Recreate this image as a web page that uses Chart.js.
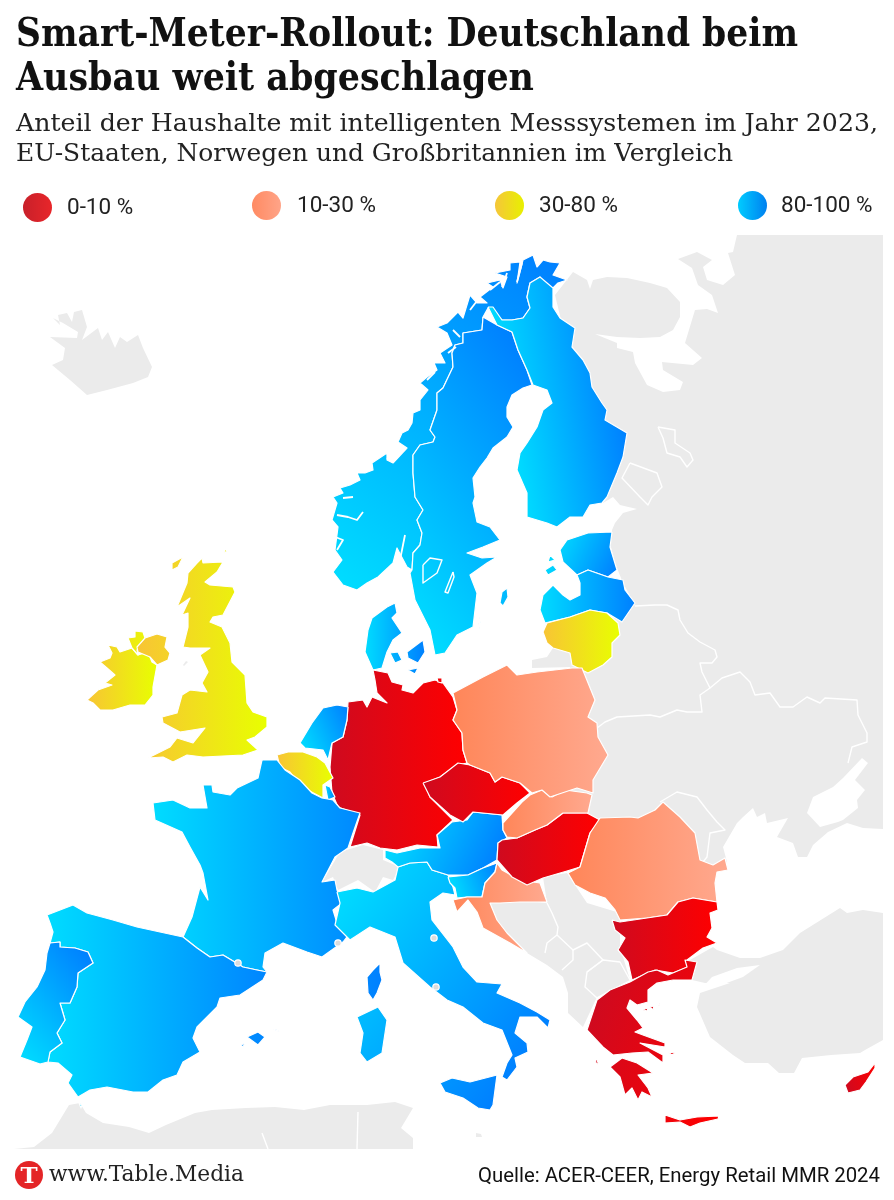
<!DOCTYPE html>
<html lang="de"><head><meta charset="utf-8">
<script src="https://cdn.jsdelivr.net/npm/chart.js@4"></script>
<style>
html,body{margin:0;padding:0;background:#fff}
#wrap{position:relative;width:894px;height:1200px;overflow:hidden}
canvas{position:absolute;left:0;top:0}
.t{position:absolute;white-space:nowrap;transform-origin:0 0;color:#111}
.slab{font-family:"DejaVu Serif Condensed","DejaVu Serif",serif}
.sans{font-family:Roboto,sans-serif}
.dot{position:absolute;width:29px;height:29px;border-radius:50%}
</style></head><body><div id="wrap"><canvas id="c" width="894" height="1200"></canvas></div>
<script>
// ---------- texts ----------
const titleLines=["Smart-Meter-Rollout: Deutschland beim","Ausbau weit abgeschlagen"];
const subtitleLines=["Anteil der Haushalte mit intelligenten Messsystemen im Jahr 2023,","EU-Staaten, Norwegen und Großbritannien im Vergleich"];
const legendLabels=["0-10 %","10-30 %","30-80 %","80-100 %"];
const footerLeft="www.Table.Media";
const footerRight="Quelle: ACER-CEER, Energy Retail MMR 2024";

// ---------- map outlines, in map units (flat x,y lists) ----------
const Island=[53,318,60,325,58,315,67,313,72,322,74,312,82,310,87,327,82,340,98,328,102,340,108,332,115,348,120,337,127,342,138,335,143,348,152,367,148,377,133,383,107,390,87,395,70,380,52,365,63,360,65,348,50,337,77,338,78,332,63,323];
const Osteuropa=[737,235,883,235,883,829,863,828,847,823,828,832,813,845,807,857,798,857,793,843,777,837,788,818,767,823,765,813,757,817,753,808,743,817,737,823,730,835,723,847,727,862,700,880,575,870,570,790,570,640,635,605,623,583,615,563,610,543,612,530,615,523,623,513,637,509,620,505,613,497,603,503,590,440,555,295,573,272,587,280,590,289,593,280,607,277,627,278,650,283,667,288,680,302,680,317,673,330,660,337,640,338,617,337,595,334,617,343,617,348,633,352,635,363,647,385,663,392,680,390,683,382,663,370,662,362,693,365,702,358,685,343,695,310,707,309,718,313,712,295,698,285,692,268,678,259,697,252,712,260,703,267,707,280,723,285,735,275,728,253,733,252];
const Asowsches=[807,813,813,797,833,787,843,778,862,758,868,763,855,780,865,790,857,800,858,808,843,820,838,822,820,827];
const Kaliningrad=[532,668,572,667,570,653,553,648,547,657,532,660];
const Balkan=[490,903,520,900,547,903,543,877,567,873,587,903,620,913,620,947,630,980,597,997,583,1027,568,1013,568,993,563,977,547,965,527,953,507,933,497,920];
const Schweiz=[322,882,340,852,363,845,383,850,383,860,400,867,393,880,383,877,375,892,358,880,338,890,333,877];
const Tuerkei=[690,960,713,947,717,950,740,958,760,958,783,950,800,933,840,908,847,913,863,910,883,913,883,1040,865,1050,860,1053,831,1055,802,1058,794,1073,779,1073,768,1063,745,1063,733,1055,710,1037,697,1007,700,993,730,983,705,983,692,980];
const Marmara=[700,990,712,977,737,968,760,965,743,977,713,988];
const Afrika=[14,1149,34,1147,52,1133,69,1105,80,1103,86,1113,103,1123,129,1127,149,1133,166,1125,195,1113,212,1110,246,1108,275,1107,304,1110,330,1105,367,1105,395,1102,413,1108,401,1128,413,1138,413,1149];
const Malta=[476,1133,481,1134,482,1137,477,1137];
const Man=[186,661,188,662,184,666,183,665];

const Grenzen=[
 [635,606,655,605,667,605,678,610,680,620,688,633,700,642,715,650,717,657,712,663,700,663,702,672,710,688,722,678,740,672,750,682,755,695,770,693,780,707,793,707,807,697,820,703,825,698,857,700,858,715,867,733,867,742,852,747,848,763],
 [710,688,700,695,702,712,687,712,677,710,660,717,650,715,617,717,605,722,597,728],
 [660,802,677,792,697,797,707,810,717,822,725,830,710,833,707,857,703,862],
 [547,903,552,913,558,927,557,935,547,943,545,953],
 [557,935,573,950,587,943,603,960,587,972,585,987,597,998],
 [573,950,573,960,562,970],
 [587,972,603,960,620,962,630,980],
 [262,1133,268,1149],[358,1112,357,1149]
];
const Ladoga=[630,463,657,473,662,487,652,497,648,505,640,497,622,478];
const Onega=[658,427,675,430,675,443,690,453,693,460,687,467,680,457,667,453,663,438];
const Fjorde=[[387,458,393,462,405,448],[343,498,353,497],[337,515,348,517,357,520,363,512],[330,535,343,540,337,550],[517,282,522,263],[502,287,507,273],[470,310,480,297],[460,337,453,330],[400,560,405,535],[366,590,378,580],[427,380,435,372],[448,353,456,347],[490,290,500,282]];

const Norwegen=[357,590,343,585,333,572,342,560,335,550,338,527,332,520,337,503,333,497,343,493,340,488,350,485,360,480,357,473,365,473,373,470,372,463,387,453,387,460,393,463,407,448,398,442,402,433,408,430,412,423,413,413,420,410,420,400,428,390,420,383,427,377,437,370,434,363,445,363,440,353,452,345,447,333,437,327,447,323,458,312,463,318,470,295,477,303,487,303,480,297,493,287,487,283,500,280,503,288,507,277,495,273,510,270,510,263,520,262,517,283,523,260,533,255,537,267,543,260,550,262,560,263,553,275,567,280,558,283,553,288,553,297,540,277,530,283,527,297,530,308,523,318,512,320,502,320,488,308,483,317,482,330,463,333,463,343,455,345,452,353,453,367,443,388,437,393,437,410,430,430,435,437,433,442,420,445,413,455,413,473,415,497,423,510,417,520,422,533,420,545,413,553,412,570,407,567,397,548,393,563,378,577,367,583];
const Schweden=[483,317,497,325,512,332,518,350,527,370,532,385,523,388,512,395,507,407,507,417,513,427,507,437,493,448,487,458,480,467,473,478,475,497,473,503,477,522,490,527,500,540,483,547,467,553,482,558,497,557,487,563,470,575,477,593,473,627,457,635,445,653,435,655,430,630,415,600,410,573,412,570,413,553,420,545,422,533,417,520,423,510,415,497,413,473,413,455,420,445,433,442,435,437,430,430,437,410,437,393,443,388,453,367,452,353,455,345,463,343,463,333,482,330];
const Gotland=[507,588,502,592,500,603,503,606,508,597];
const Oeland=[480,617,481,618,479,629,478,628];
const Finnland=[488,307,493,307,502,320,512,320,523,318,530,308,527,297,530,283,540,277,553,288,553,297,553,307,560,318,575,328,572,347,583,360,590,373,592,387,602,403,607,410,605,420,627,433,623,457,617,473,607,497,602,503,590,505,583,517,570,517,557,527,547,523,527,517,527,493,517,470,520,453,527,443,537,427,543,410,552,403,547,390,533,385,527,370,518,350,512,332,497,325];
const Estland=[612,532,588,533,567,540,560,550,563,562,577,575,588,570,608,577,617,570,610,547];
const Saaremaa=[545,570,553,565,557,570,548,575];
const Hiiumaa=[550,555,555,560,548,562];
const Lettland=[540,610,543,595,553,585,563,595,570,600,580,595,580,583,577,575,588,570,608,577,623,580,625,590,635,603,622,622,607,613,590,610,570,617,545,623];
const Litauen=[543,632,547,623,570,617,590,610,607,613,618,623,620,635,612,643,612,657,603,665,588,673,572,665,570,653,553,648,547,643];
const Juetland=[373,670,365,652,368,630,372,618,387,607,395,603,397,613,392,618,402,633,393,640,387,652,382,668];
const Seeland=[407,652,423,640,425,652,418,663,408,658];
const Fuenen=[390,653,398,652,402,660,395,663];
const Lolland=[408,670,418,668,415,674];
const Deutschland=[373,670,388,673,392,682,403,685,402,690,413,693,423,683,435,680,443,683,453,697,457,710,453,720,462,733,463,750,467,763,457,765,440,777,425,783,430,797,453,820,437,835,438,847,417,845,397,850,380,848,367,843,350,847,360,815,338,807,332,793,330,767,332,743,343,737,347,720,348,702,363,700,367,707,372,697,387,703,377,693,375,680];
const Ruegen=[437,678,442,678,442,683,438,682];
const Niederlande=[348,707,337,705,323,708,312,723,300,743,305,748,323,750,328,760,332,743,343,737,347,720];
const Belgien=[277,755,288,752,303,752,317,757,325,763,333,778,323,785,323,798,302,787,290,772,280,767];
const Luxemburg=[325,785,330,787,335,797,328,800];
const Frankreich=[262,760,277,760,285,770,300,780,312,793,322,798,333,800,340,808,360,813,353,833,348,848,335,857,322,882,335,880,337,890,342,903,333,910,337,923,350,933,343,942,322,957,307,952,283,943,265,953,263,967,267,972,257,970,243,967,223,955,210,957,197,948,183,937,192,917,200,887,208,900,203,873,200,865,190,847,182,832,155,820,153,803,173,800,190,808,207,808,203,785,212,785,213,792,230,795,237,788,258,778];
const Korsika=[380,963,380,972,382,980,377,993,373,1000,368,993,367,977,373,970];
const Spanien=[47,915,73,905,87,913,113,920,137,927,160,932,183,937,197,948,210,957,223,955,243,967,257,970,267,972,263,980,240,995,220,998,217,1007,197,1027,193,1038,200,1052,183,1062,177,1075,163,1080,148,1092,133,1092,107,1087,90,1090,78,1097,68,1083,72,1075,58,1063,48,1062,50,1052,62,1043,57,1033,65,1020,60,1003,70,1003,77,987,78,973,93,963,88,952,75,948,60,947,60,942,50,943,53,932,50,923];
const Mallorca=[247,1037,258,1032,265,1037,258,1045];
const Menorca=[273,1029,280,1032,277,1030];
const Ibiza=[241,1045,245,1043,243,1047];
const Ceuta=[79,1103,82,1105,81,1108];
const Portugal=[50,943,60,942,60,947,75,948,88,952,93,963,78,973,77,987,70,1003,60,1003,65,1020,57,1033,62,1043,50,1052,48,1062,40,1064,20,1057,27,1040,32,1027,18,1017,25,1002,37,987,45,970,47,953];
const Italien=[337,892,357,888,373,892,395,880,398,867,410,863,427,862,432,870,448,875,453,887,455,895,443,893,430,902,432,920,453,947,463,967,477,982,502,984,497,993,520,1003,537,1012,550,1020,548,1028,537,1017,520,1017,515,1033,527,1043,528,1052,515,1058,517,1067,507,1080,502,1077,507,1063,512,1055,502,1030,483,1023,463,1007,447,1000,430,987,403,963,395,937,370,927,350,940,335,925,340,903];
const Sizilien=[440,1083,452,1078,470,1082,497,1075,493,1105,490,1110,478,1108,463,1098,445,1092];
const Sardinien=[357,1017,378,1007,387,1020,382,1053,367,1062,360,1053,363,1033];
const Oesterreich=[385,850,397,853,420,848,440,848,437,835,452,822,467,820,473,812,502,815,503,830,507,838,498,843,497,860,483,868,468,875,448,875,432,870,427,862,410,863,398,867,392,862,385,858];
const Slowenien=[448,877,468,875,483,868,497,863,495,872,485,883,482,897,467,897,457,898,455,888,450,883];
const Kroatien=[497,863,502,870,520,880,540,883,547,902,520,902,500,903,490,903,497,920,507,933,527,953,510,943,483,928,477,912,468,900,457,912,453,900,467,897,482,897,485,883,495,872];
const Ungarn=[502,840,517,838,535,830,547,825,563,813,587,813,600,820,590,833,580,867,567,871,543,878,527,885,512,877,497,860,498,843];
const Slowakei=[503,823,522,802,530,795,542,790,552,797,565,790,587,793,592,795,588,813,563,813,547,825,535,830,517,838,507,837,503,830];
const Tschechien=[423,783,440,777,458,763,470,765,490,773,495,782,502,777,520,783,530,793,517,803,503,815,473,812,463,822,450,815,430,797];
const Polen=[453,693,483,677,507,665,517,675,537,672,572,668,582,668,595,700,588,717,597,723,598,737,608,755,593,780,593,793,577,788,550,797,542,790,532,793,520,783,502,777,495,782,490,773,470,765,467,763,463,750,462,733,453,720,457,710];
const Rumaenien=[600,818,630,817,638,818,655,810,663,802,680,817,695,833,700,860,713,865,725,858,728,870,717,872,715,883,717,902,693,898,678,902,667,915,647,918,620,920,615,910,605,898,590,893,575,885,568,873,580,867,590,833];
const Bulgarien=[612,920,620,922,647,918,667,915,678,902,693,898,717,902,718,910,710,913,712,928,707,937,717,943,703,948,687,960,688,967,673,973,655,970,632,980,628,962,618,950,625,938,615,930];
const Griechenland=[630,982,648,972,657,970,668,975,687,967,685,960,697,962,692,980,673,980,657,983,648,990,648,1002,637,1005,630,1000,627,1008,637,1020,643,1028,635,1032,643,1035,665,1043,665,1047,640,1043,663,1055,663,1063,648,1052,632,1053,613,1055,603,1047,587,1030,597,1000,610,990];
const Peloponnes=[610,1067,622,1058,637,1063,653,1073,638,1075,648,1088,652,1097,642,1092,638,1100,632,1088,625,1095,620,1077];
const Kreta=[665,1115,680,1120,697,1117,719,1116,718,1119,700,1123,690,1127,680,1122,665,1123];
const Inselchen=[[643,1010,647,1008,648,1011],[650,1007,654,1006,653,1010],[658,1003,660,1004,659,1006],[595,1058,597,1060,599,1065,596,1063],[668,1052,675,1053,672,1055]];
const Zypern=[875,1063,875,1068,866,1082,860,1090,848,1093,845,1085,853,1077,868,1072];
const Irland=[108,645,117,647,120,652,132,648,138,655,148,652,152,662,157,665,153,687,153,695,145,705,130,705,113,710,100,710,93,703,87,700,98,690,112,685,105,683,115,675,107,668,100,662,110,658,112,653];
const Donegal=[128,638,135,637,135,631,143,632,145,638,137,650,138,655,132,648];
const Nordirland=[145,638,157,634,167,637,165,647,170,653,168,660,157,665,150,657,138,652,137,647];
const Grossbritannien=[202,558,203,563,223,562,217,572,205,582,210,585,233,587,235,592,223,615,213,617,210,622,222,627,230,643,232,662,245,675,247,703,253,712,267,717,267,727,255,737,247,740,258,750,243,755,203,757,187,755,173,762,163,757,148,758,170,747,177,738,193,743,205,728,180,732,163,723,162,717,177,713,182,695,190,690,207,692,202,683,208,672,200,655,210,648,190,648,183,647,188,627,188,613,182,615,190,598,177,607,187,583,188,573,197,563];
const Lewis=[172,563,183,557,178,567,172,570];
const Shetland=[224,548,227,551,225,553];
const Vaenern=[423,565,430,558,442,560,437,573,423,583];
const Vaettern=[453,572,445,592,448,593,454,577];
const Kleinstaaten=[[434,938],[436,987],[238,963],[338,943]];

// ---------- shares by class ----------
const klasse0_10=["Deutschland","Tschechien","Ungarn","Bulgarien","Griechenland","Zypern"];
const klasse10_30=["Polen","Slowakei","Rumänien","Kroatien"];
const klasse30_80=["Großbritannien","Irland","Belgien","Litauen"];
const klasse80_100=["Norwegen","Schweden","Finnland","Estland","Lettland","Dänemark","Niederlande","Luxemburg","Frankreich","Spanien","Portugal","Italien","Österreich","Slowenien"];

const laender={
 "Norwegen":[Norwegen],"Schweden":[Schweden,Gotland,Oeland],"Finnland":[Finnland],"Estland":[Estland,Saaremaa,Hiiumaa],
 "Lettland":[Lettland],"Litauen":[Litauen],"Dänemark":[Juetland,Seeland,Fuenen,Lolland],"Deutschland":[Deutschland,Ruegen],
 "Niederlande":[Niederlande],"Belgien":[Belgien],"Luxemburg":[Luxemburg],"Frankreich":[Frankreich,Korsika],
 "Spanien":[Spanien,Mallorca,Menorca,Ibiza,Ceuta],"Portugal":[Portugal],"Italien":[Italien,Sizilien,Sardinien],
 "Österreich":[Oesterreich],"Slowenien":[Slowenien],"Kroatien":[Kroatien],"Ungarn":[Ungarn],"Slowakei":[Slowakei],
 "Tschechien":[Tschechien],"Polen":[Polen],"Rumänien":[Rumaenien],"Bulgarien":[Bulgarien],
 "Griechenland":[Griechenland,Peloponnes,Kreta,...Inselchen],"Zypern":[Zypern],"Irland":[Irland,Donegal],
 "Großbritannien":[Grossbritannien,Nordirland,Lewis,Shetland]
};

// ---------- styles ----------
const GREY="#ebebeb";
const stops={a:["#cf0a1f","#ff0000"],b:["#ff8659","#ffa98f"],c:["#f8c435","#e8ff00"],d:["#00dcff","#0080ff"]};
const angle={"Norwegen":-50,"Schweden":-35,"Finnland":-10,"Italien":35,"Portugal":-40,"Österreich":25,"Slowenien":-20,"Estland":25,"Griechenland":20,"Niederlande":-25,"Zypern":-20};
const klasseOf=n=>klasse0_10.includes(n)?"a":klasse10_30.includes(n)?"b":klasse30_80.includes(n)?"c":"d";
const toPts=f=>{const o=[];for(let i=0;i<f.length;i+=2)o.push({x:f[i],y:f[i+1]});o.push({x:f[0],y:f[1]});return o};

function shape(flat,fill,label,bw=1.2){return{label,data:toPts(flat),showLine:true,fill:'shape',tension:0,pointRadius:0,pointHoverRadius:0,borderColor:bw?"#fff":"rgba(0,0,0,0)",borderWidth:bw,backgroundColor:fill,borderJoinStyle:'round'}}
function lineOnly(flat,label,closed,w=1.4){const p=toPts(flat);if(!closed)p.pop();return{label,data:p,showLine:true,fill:false,tension:0,pointRadius:0,pointHoverRadius:0,borderColor:"#fff",borderWidth:w,borderJoinStyle:'round',backgroundColor:'transparent'}}
function gradFor(name){
 const parts=laender[name].flat();const xs=[],ys=[];parts.forEach((v,i)=>(i%2?ys:xs).push(v));
 const a=(angle[name]||0)*Math.PI/180,dx=Math.cos(a),dy=Math.sin(a);
 let lo=1e9,hi=-1e9;xs.forEach((x,i)=>{const p=x*dx+ys[i]*dy;lo=Math.min(lo,p);hi=Math.max(hi,p)});
 const [c0,c1]=stops[klasseOf(name)];
 const mx=(Math.min(...xs)+Math.max(...xs))/2,my=(Math.min(...ys)+Math.max(...ys))/2,mp=mx*dx+my*dy;
 const from={x:mx+(lo-mp)*dx,y:my+(lo-mp)*dy},to={x:mx+(hi-mp)*dx,y:my+(hi-mp)*dy};
 return ctx=>{const c=ctx.chart,s=c.scales;if(!s||!s.x||!s.y)return c0;
  const p=[s.x.getPixelForValue(from.x),s.y.getPixelForValue(from.y),s.x.getPixelForValue(to.x),s.y.getPixelForValue(to.y)];
  if(!p.every(Number.isFinite))return c0;
  const g=c.ctx.createLinearGradient(p[0],p[1],p[2],p[3]);
  g.addColorStop(0,c0);g.addColorStop(1,c1);return g};
}
const ds=[];
[Island,Osteuropa,Kaliningrad,Balkan,Schweiz,Tuerkei,Afrika,Malta,Man].forEach((f,i)=>ds.push(shape(f,GREY,"grau"+i,0)));
ds.push(shape(Asowsches,"#fff","Asowsches Meer",0));
ds.push(shape(Marmara,"#fff","Marmarameer",0));
Grenzen.forEach((g,i)=>ds.push(lineOnly(g,"Grenze"+i)));
ds.push(lineOnly(Ladoga,"Ladoga",true),lineOnly(Onega,"Onega",true));
Object.keys(laender).forEach(n=>{const fill=gradFor(n);laender[n].forEach(p=>ds.push(shape(p,fill,n)))});
ds.push(lineOnly(Vaenern,"Vänern",true),lineOnly(Vaettern,"Vättern",true));
Fjorde.forEach((f,i)=>ds.push(lineOnly(f,"Fjord"+i,false,1.8)));
ds.push({label:"Kleinstaaten",data:Kleinstaaten.map(p=>({x:p[0],y:p[1]})),showLine:false,pointRadius:3.2,pointHoverRadius:3.2,pointBackgroundColor:"#dcdcdc",pointBorderColor:"#fff",pointBorderWidth:1.2});
ds.reverse();

const chart=new Chart(document.getElementById('c'),{type:'scatter',data:{datasets:ds},options:{
 responsive:false,animation:false,events:[],devicePixelRatio:1,
 layout:{padding:0,autoPadding:false},
 plugins:{legend:{display:false},tooltip:{enabled:false},title:{display:false}},
 scales:{x:{type:'linear',min:0,max:894,display:false},y:{type:'linear',min:0,max:1200,reverse:true,display:false}}
}});
chart.update();

// ---------- html text ----------
const wrap=document.getElementById('wrap');
function text(s,cls,x,base,size,weight,width,color){const d=document.createElement('div');d.className='t '+cls;d.textContent=s;
 d.style.cssText+=`left:${x}px;top:${base-size}px;font-size:${size}px;line-height:${size*1.2}px;font-weight:${weight};`+(color?`color:${color};`:'');
 wrap.appendChild(d);
 if(width){const w=d.getBoundingClientRect().width;d.style.transform=`scaleX(${width/w})`}
 return d}
text(titleLines[0],'slab',16,48,39,700,782);
text(titleLines[1],'slab',16,92,39,700,518);
text(subtitleLines[0],'slab',16,133,25,400,862,'#222');
text(subtitleLines[1],'slab',16,163,25,400,717,'#222');
const dotX=[23,252,495,738],lblX=[67,297,539,781],dotY=[193,191,191,191];
const dotCols=["#c8202a,#e8262a","#ff8a62,#ffa488","#f5c63a,#e8f000","#00ccff,#0080f0"];
legendLabels.forEach((l,i)=>{const d=document.createElement('div');d.className='dot';d.style.cssText=`left:${dotX[i]}px;top:${dotY[i]}px;background:linear-gradient(90deg,${dotCols[i]})`;wrap.appendChild(d);
 text(l,'sans',lblX[i],i==0?215:213,22.5,400,null,'#222')});
const logo=document.createElement('div');logo.style.cssText="position:absolute;left:15px;top:1161px;width:28px;height:28px;border-radius:50%;background:#e42527;color:#fff;font:700 23px/28px 'DejaVu Serif',serif;text-align:center";logo.textContent="T";wrap.appendChild(logo);
text(footerLeft,'slab',49,1183,23,400,195,'#222');
text(footerRight,'sans',478,1183,20,400,402,'#111');
</script></body></html>
